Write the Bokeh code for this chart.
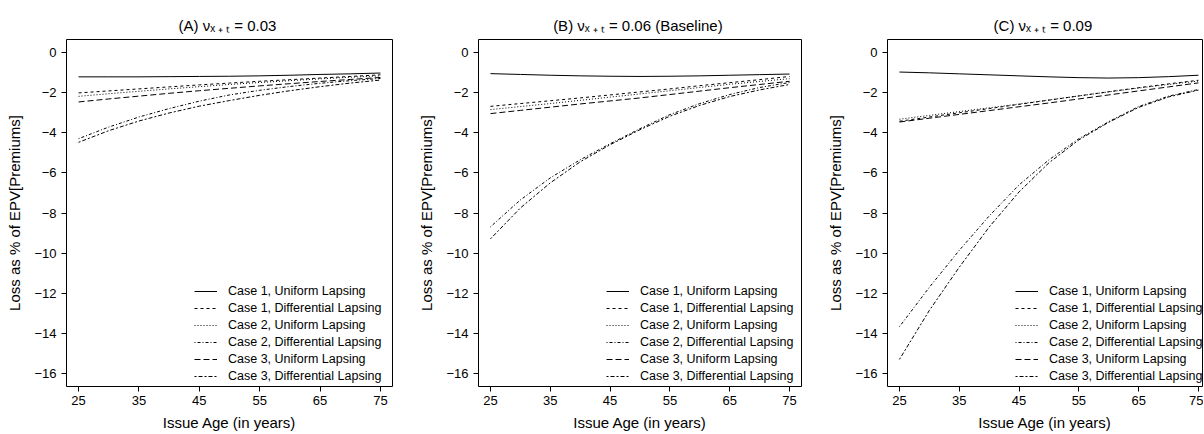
from bokeh.plotting import figure
from bokeh.layouts import row
from bokeh.models import Range1d, FixedTicker, Title
from bokeh.embed import file_html
from bokeh.resources import INLINE

FONT = "Liberation Sans"

ages = [25, 30, 35, 40, 45, 50, 55, 60, 65, 70, 75]

series_names = [
    "Case 1, Uniform Lapsing",
    "Case 1, Differential Lapsing",
    "Case 2, Uniform Lapsing",
    "Case 2, Differential Lapsing",
    "Case 3, Uniform Lapsing",
    "Case 3, Differential Lapsing",
]

# Panel A  (nu = 0.03)
a_c1u = [-1.22, -1.22, -1.22, -1.21, -1.20, -1.19, -1.17, -1.14, -1.10, -1.07, -1.03]
a_c1d = [-2.02, -1.92, -1.82, -1.72, -1.62, -1.53, -1.44, -1.36, -1.28, -1.20, -1.12]
a_c2u = [-2.19, -2.06, -1.94, -1.82, -1.71, -1.60, -1.50, -1.41, -1.32, -1.24, -1.17]
a_c2d = [-4.30, -3.72, -3.22, -2.80, -2.43, -2.12, -1.89, -1.70, -1.54, -1.41, -1.30]
a_c3u = [-2.47, -2.32, -2.18, -2.04, -1.91, -1.79, -1.67, -1.56, -1.45, -1.35, -1.25]
a_c3d = [-4.48, -3.90, -3.42, -3.02, -2.68, -2.40, -2.14, -1.91, -1.71, -1.53, -1.38]

# Panel B  (nu = 0.06, baseline)
b_c1u = [-1.06, -1.10, -1.14, -1.17, -1.19, -1.20, -1.19, -1.17, -1.14, -1.11, -1.08]
b_c1d = [-2.69, -2.55, -2.41, -2.27, -2.12, -1.97, -1.82, -1.66, -1.51, -1.36, -1.20]
b_c2u = [-2.85, -2.70, -2.55, -2.39, -2.23, -2.07, -1.91, -1.75, -1.59, -1.45, -1.31]
b_c2d = [-8.69, -7.35, -6.25, -5.35, -4.55, -3.80, -3.10, -2.55, -2.10, -1.75, -1.50]
b_c3u = [-3.05, -2.89, -2.73, -2.57, -2.42, -2.27, -2.10, -1.93, -1.76, -1.60, -1.44]
b_c3d = [-9.29, -7.75, -6.50, -5.45, -4.60, -3.85, -3.18, -2.64, -2.20, -1.87, -1.60]

# Panel C  (nu = 0.09)
c_c1u = [-0.98, -1.02, -1.07, -1.12, -1.17, -1.22, -1.26, -1.28, -1.26, -1.21, -1.14]
c_c1d = [-3.43, -3.22, -3.01, -2.80, -2.59, -2.38, -2.17, -1.96, -1.76, -1.57, -1.39]
c_c2u = [-3.33, -3.14, -2.95, -2.76, -2.57, -2.37, -2.17, -1.97, -1.78, -1.60, -1.43]
c_c2d = [-13.66, -11.70, -9.86, -8.15, -6.60, -5.35, -4.30, -3.45, -2.70, -2.18, -1.85]
c_c3u = [-3.47, -3.28, -3.09, -2.90, -2.71, -2.52, -2.32, -2.12, -1.92, -1.72, -1.52]
c_c3d = [-15.29, -12.85, -10.70, -8.70, -6.95, -5.50, -4.36, -3.48, -2.74, -2.22, -1.88]

x_ticks = [25, 35, 45, 55, 65, 75]
y_ticks = [0, -2, -4, -6, -8, -10, -12, -14, -16]
y_tick_labels = ["0", "\u22122", "\u22124", "\u22126", "\u22128", "\u221210", "\u221212", "\u221214", "\u221216"]

SUB = "\u2093\u2009\u208a\u2009\u209c"
titles = [
    "(A)  \u03bd" + SUB + " = 0.03",
    "(B)  \u03bd" + SUB + " = 0.06 (Baseline)",
    "(C)  \u03bd" + SUB + " = 0.09",
]

dashes = ["solid", "3 3", "1 2", "1 2 3 2", "6 3", "2 2 4 2"]

panel_data = [
    [a_c1u, a_c1d, a_c2u, a_c2d, a_c3u, a_c3d],
    [b_c1u, b_c1d, b_c2u, b_c2d, b_c3u, b_c3d],
    [c_c1u, c_c1d, c_c2u, c_c2d, c_c3u, c_c3d],
]

TOP = 39
FRAME_H = 349
H = 433
LEFT0 = 66
figs = []
for i, (title, data) in enumerate(zip(titles, panel_data)):
    if i == 0:
        W = LEFT0 + 326 + 23
        left = LEFT0
        right = 23
        xr = Range1d(23, 77)
    elif i == 1:
        W = 409
        left = 60
        right = 23
        xr = Range1d(23, 77)
    else:
        W = 1203 - (LEFT0 + 326 + 23) - 409
        left = 60
        right = 1
        frame_w = W - left - right
        xr = Range1d(23, 23 + 54.0 * frame_w / 326.0)
    p = figure(width=W, height=H, output_backend="svg", toolbar_location=None,
               x_range=xr, y_range=Range1d(-16.64, 0.64),
               min_border_left=left, min_border_right=right,
               min_border_top=TOP, min_border_bottom=H - TOP - FRAME_H)
    p.title = Title(text=title, align="center", text_font=FONT, text_font_size="15px",
                    text_font_style="normal", text_color="black", standoff=12)
    p.grid.visible = False
    p.outline_line_color = "black"
    p.outline_line_width = 1
    p.background_fill_color = "white"
    p.border_fill_color = "white"

    for vals, name, dash in zip(data, series_names, dashes):
        p.line(ages, vals, line_color="black", line_width=1, line_dash=dash,
               legend_label=name)

    for ax in (p.xaxis[0], p.yaxis[0]):
        ax.axis_line_color = None
        ax.major_tick_line_color = "black"
        ax.major_tick_out = 5
        ax.major_tick_in = 0
        ax.minor_tick_line_color = None
        ax.major_label_text_font = FONT
        ax.major_label_text_font_size = "13px"
        ax.major_label_text_color = "black"
        ax.axis_label_text_font = FONT
        ax.axis_label_text_font_size = "15px"
        ax.axis_label_text_font_style = "normal"
        ax.axis_label_text_color = "black"
    p.xaxis.ticker = FixedTicker(ticks=x_ticks)
    p.yaxis.ticker = FixedTicker(ticks=y_ticks)
    p.yaxis.major_label_overrides = {t: l for t, l in zip(y_ticks, y_tick_labels)}
    p.xaxis.axis_label = "Issue Age (in years)"
    p.yaxis.axis_label = "Loss as % of EPV[Premiums]"
    p.xaxis.major_label_standoff = 4
    p.xaxis.axis_label_standoff = 6
    p.yaxis.major_label_standoff = 5
    p.yaxis.axis_label_standoff = 8
    p.yaxis.major_label_orientation = "horizontal"

    lg = p.legend[0]
    lg.location = (128, 2)
    lg.border_line_color = None
    lg.background_fill_alpha = 0
    lg.padding = 0
    lg.margin = 0
    lg.spacing = 1
    lg.glyph_width = 23
    lg.glyph_height = 16
    lg.label_height = 16
    lg.label_standoff = 11
    lg.label_text_font = FONT
    lg.label_text_font_size = "12.5px"
    lg.label_text_color = "black"
    figs.append(p)

layout = row(*figs)
open("out.html", "w").write(file_html(layout, INLINE))
